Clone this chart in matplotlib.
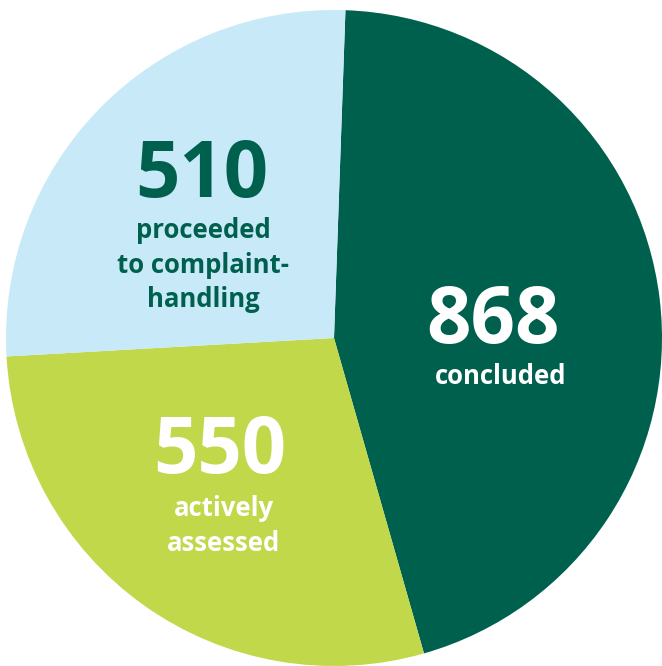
import matplotlib.pyplot as plt

# slices, clockwise from the top
values = [868, 550, 510]
numbers = ["868", "550", "510"]
captions = ["concluded", "actively\nassessed", "proceeded\nto complaint-\nhandling"]
colors = ["#00604E", "#C0D84A", "#C8E9F8"]
text_colors = ["white", "white", "#00604E"]

W, H = 662, 666
plt.rcParams["font.family"] = ["Open Sans", "DejaVu Sans"]

fig = plt.figure(figsize=(W / 100, H / 100), dpi=100)
ax = fig.add_axes([0, 0, 1, 1])
ax.pie(values, colors=colors, startangle=88, counterclock=False,
       radius=1, center=(0, 0), wedgeprops=dict(linewidth=0))

# circle centre at (334, 338) px, radius 328 px
cx, cy, r = 334, 338, 328
ax.set_xlim(-cx / r, (W - cx) / r)
ax.set_ylim(-(H - cy) / r, cy / r)
ax.set_aspect("auto")
ax.axis("off")

# label positions in pixels (number centre, caption centre)
num_pos = [(493, 322), (220, 453), (202, 177)]
cap_pos = [(501, 377), (224, 526), (203, 265)]

for i in range(len(values)):
    nx, ny = num_pos[i]
    fig.text(nx / W, 1 - ny / H, numbers[i], ha="center", va="center",
             fontsize=56, fontweight="bold", color=text_colors[i])
    tx, ty = cap_pos[i]
    fig.text(tx / W, 1 - ty / H, captions[i], ha="center", va="center",
             fontsize=18.5, fontweight="bold", color=text_colors[i],
             linespacing=1.38)

fig.savefig("out.png", dpi=100)
